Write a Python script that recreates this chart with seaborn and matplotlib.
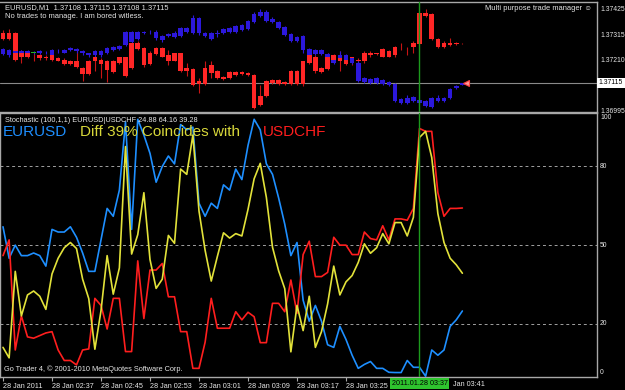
import matplotlib
matplotlib.use("Agg")
import numpy as np
import pandas as pd
import matplotlib.pyplot as plt
import seaborn as sns

# ---------------- data ----------------
time_labels = ["28 Jan 2011", "28 Jan 02:37", "28 Jan 02:45", "28 Jan 02:53", "28 Jan 03:01",
               "28 Jan 03:09", "28 Jan 03:17", "28 Jan 03:25", "", ""]
tick_bars = [0, 8, 16, 24, 32, 40, 48, 56, 64, 72]
partial_label = "Jan 03:41"
cursor_bar = 68
cursor_label = "2011.01.28 03:37"

# EURUSD M1 candles
eu_open = [1.37236,1.37253,1.37240,1.37249,1.37240,1.37242,1.37240,1.37244,1.37232,1.37249,
           1.37244,1.37253,1.37257,1.37249,1.37240,1.37232,1.37249,1.37240,1.37253,1.37257,
           1.37275,1.37330,1.37300,1.37326,1.37330,1.37330,1.37313,1.37313,1.37309,1.37313,
           1.37330,1.37326,1.37391,1.37326,1.37326,1.37322,1.37326,1.37330,1.37330,1.37339,
           1.37343,1.37373,1.37399,1.37416,1.37386,1.37373,1.37352,1.37322,1.37292,1.37313,
           1.37257,1.37236,1.37253,1.37236,1.37214,1.37219,1.37232,1.37219,1.37201,1.37120,
           1.37133,1.37115,1.37128,1.37120,1.37111,1.37047,1.37029,1.37038,1.37042,1.37038,
           1.37012,1.37038,1.37051,1.37051,1.37094,1.37108]
eu_close = [1.37257,1.37232,1.37249,1.37240,1.37249,1.37242,1.37249,1.37240,1.37253,1.37249,
            1.37253,1.37262,1.37249,1.37244,1.37232,1.37249,1.37232,1.37262,1.37266,1.37270,
            1.37330,1.37287,1.37330,1.37330,1.37330,1.37305,1.37296,1.37322,1.37326,1.37348,
            1.37348,1.37391,1.37326,1.37313,1.37300,1.37326,1.37343,1.37348,1.37356,1.37361,
            1.37378,1.37408,1.37416,1.37378,1.37373,1.37348,1.37318,1.37292,1.37309,1.37253,
            1.37232,1.37253,1.37236,1.37223,1.37201,1.37232,1.37214,1.37201,1.37124,1.37137,
            1.37115,1.37137,1.37111,1.37107,1.37038,1.37029,1.37051,1.37055,1.37029,1.37017,
            1.37051,1.37051,1.37038,1.37090,1.37103,1.37115]
eu_high = [1.37262,1.37257,1.37253,1.37253,1.37253,1.37249,1.37253,1.37249,1.37257,1.37257,
           1.37257,1.37266,1.37262,1.37253,1.37244,1.37253,1.37253,1.37266,1.37270,1.37275,
           1.37335,1.37335,1.37335,1.37335,1.37339,1.37339,1.37318,1.37326,1.37335,1.37352,
           1.37352,1.37404,1.37395,1.37330,1.37330,1.37339,1.37348,1.37352,1.37361,1.37365,
           1.37382,1.37416,1.37429,1.37425,1.37395,1.37378,1.37356,1.37326,1.37313,1.37318,
           1.37262,1.37257,1.37257,1.37240,1.37219,1.37249,1.37236,1.37223,1.37206,1.37141,
           1.37137,1.37141,1.37133,1.37124,1.37115,1.37051,1.37064,1.37060,1.37047,1.37042,
           1.37055,1.37064,1.37055,1.37094,1.37107,1.37115]
eu_low = [1.37232,1.37227,1.37236,1.37236,1.37236,1.37236,1.37236,1.37236,1.37227,1.37240,
          1.37240,1.37249,1.37244,1.37232,1.37227,1.37227,1.37227,1.37236,1.37249,1.37253,
          1.37270,1.37283,1.37296,1.37322,1.37322,1.37296,1.37287,1.37309,1.37305,1.37309,
          1.37326,1.37322,1.37318,1.37309,1.37296,1.37309,1.37322,1.37326,1.37326,1.37335,
          1.37339,1.37369,1.37395,1.37373,1.37369,1.37343,1.37313,1.37287,1.37287,1.37240,
          1.37227,1.37232,1.37232,1.37219,1.37197,1.37214,1.37210,1.37197,1.37120,1.37115,
          1.37111,1.37111,1.37107,1.37103,1.37034,1.37025,1.37025,1.37034,1.37025,1.37012,
          1.37008,1.37034,1.37034,1.37047,1.37090,1.37108]

# USDCHF candles overlaid on the EURUSD price scale
chf_open = [1.37300,1.37326,1.37326,1.37223,1.37244,1.37227,1.37232,1.37219,1.37232,1.37219,
            1.37214,1.37197,1.37206,1.37180,1.37154,1.37206,1.37214,1.37210,1.37163,1.37201,
            1.37223,1.37180,1.37257,1.37262,1.37197,1.37236,1.37262,1.37232,1.37210,1.37240,
            1.37167,1.37176,1.37111,1.37111,1.37189,1.37167,1.37141,1.37137,1.37163,1.37154,
            1.37158,1.37150,1.37021,1.37060,1.37115,1.37128,1.37111,1.37111,1.37167,1.37111,
            1.37201,1.37227,1.37163,1.37176,1.37214,1.37223,1.37214,1.37201,1.37214,1.37206,
            1.37232,1.37240,1.37227,1.37249,1.37232,1.37266,1.37249,1.37266,1.37279,1.37412,
            1.37408,1.37300,1.37266,1.37283,1.37279,1.37279]
chf_close = [1.37326,1.37300,1.37214,1.37244,1.37223,1.37223,1.37219,1.37227,1.37214,1.37210,
             1.37197,1.37210,1.37184,1.37154,1.37210,1.37223,1.37197,1.37171,1.37210,1.37223,
             1.37146,1.37283,1.37283,1.37189,1.37244,1.37262,1.37227,1.37210,1.37240,1.37167,
             1.37180,1.37107,1.37124,1.37180,1.37158,1.37137,1.37133,1.37163,1.37150,1.37163,
             1.37150,1.37008,1.37060,1.37124,1.37128,1.37111,1.37120,1.37167,1.37111,1.37206,
             1.37232,1.37167,1.37180,1.37236,1.37232,1.37206,1.37197,1.37223,1.37206,1.37244,
             1.37244,1.37236,1.37257,1.37227,1.37266,1.37266,1.37249,1.37283,1.37412,1.37399,
             1.37300,1.37266,1.37283,1.37275,1.37283,1.37279]
chf_high = [1.37339,1.37343,1.37330,1.37253,1.37249,1.37240,1.37236,1.37232,1.37236,1.37223,
            1.37219,1.37214,1.37257,1.37184,1.37214,1.37227,1.37219,1.37214,1.37214,1.37227,
            1.37227,1.37287,1.37292,1.37266,1.37249,1.37266,1.37266,1.37253,1.37244,1.37244,
            1.37201,1.37180,1.37137,1.37210,1.37210,1.37171,1.37146,1.37167,1.37167,1.37167,
            1.37163,1.37154,1.37107,1.37128,1.37133,1.37133,1.37124,1.37171,1.37171,1.37210,
            1.37236,1.37232,1.37184,1.37240,1.37236,1.37249,1.37219,1.37227,1.37219,1.37249,
            1.37249,1.37244,1.37262,1.37253,1.37270,1.37283,1.37266,1.37292,1.37416,1.37429,
            1.37412,1.37305,1.37292,1.37305,1.37287,1.37283]
chf_low = [1.37296,1.37296,1.37210,1.37201,1.37219,1.37210,1.37214,1.37214,1.37210,1.37206,
           1.37193,1.37193,1.37180,1.37124,1.37150,1.37167,1.37137,1.37120,1.37158,1.37197,
           1.37141,1.37176,1.37253,1.37184,1.37193,1.37232,1.37223,1.37189,1.37206,1.37163,
           1.37146,1.37103,1.37072,1.37107,1.37137,1.37133,1.37128,1.37133,1.37146,1.37150,
           1.37146,1.37004,1.37017,1.37055,1.37111,1.37107,1.37107,1.37107,1.37107,1.37103,
           1.37197,1.37158,1.37158,1.37171,1.37210,1.37167,1.37193,1.37189,1.37201,1.37201,
           1.37227,1.37232,1.37223,1.37223,1.37227,1.37253,1.37232,1.37240,1.37275,1.37395,
           1.37296,1.37262,1.37262,1.37270,1.37275,1.37279]

# Stochastic (100,1,1) values
stoch_eurusd = [57,45,50,46,46,47,46,42,56,55,
                55,57,53,47,40,40,52,64,61,71,
                97,56,98,92,85,74,80,84,81,96,
                94,95,66,61,66,64,73,71,79,75,
                88,98,94,81,77,68,58,46,51,29,
                21,27,21,12,11,19,14,8,3,4.5,
                5.6,3,3,1.5,1.4,1.4,6,3.4,3.4,0,
                10,8,10,19,21.5,24.88]
stoch_usdchf = [46,52,10,23,15,14.5,15.5,16.5,17,10,
                6,6,4.3,10,10.4,29.7,27,18,29.7,29.7,
                9.4,9.4,44,22,40.5,40.5,43,30.3,30.3,17,
                17,3,3,13,29.7,18.3,18.3,18.3,24.6,21.5,
                24.4,22.7,12.8,12.8,27.8,27.8,24.6,36.7,24,46.4,
                51.5,38,38,39.6,53,50,50,46.4,46.4,55,
                52.5,52,57.4,52,60,60,59.5,64,94.5,93.4,
                93.4,70,61,64,64,64.16]
stoch_diff = [11,7,40,23,31,32.5,30.5,25.5,39,45,
              49,51,48.7,37,29.6,10.3,25,46,31.3,41.3,
              87.6,46.6,54,70,44.5,33.5,37,53.7,50.7,79,
              77,92,63,48,36.3,45.7,54.7,52.7,54.4,53.5,
              63.6,75.3,81.2,68.2,49.2,40.2,33.4,9.3,27,17.4,
              30.5,11,17,27.6,42,31,36,38.4,43.4,50.5,
              46.9,49,54.4,50.5,58.6,58.6,53.5,60.6,91.1,93.4,
              83.4,62,51,45,42.5,39.28]

price_ticks = [1.37425, 1.37315, 1.37210, 1.36995]
stoch_levels = [20, 50, 80]
stoch_ticks = [0, 20, 50, 80, 100]

# ---------------- style ----------------
sns.set_theme(style="dark", rc={"axes.facecolor": "black", "figure.facecolor": "black"})
plt.rcParams["font.family"] = ["Liberation Sans", "DejaVu Sans"]

W, H = 625, 390
fig = plt.figure(figsize=(W / 100, H / 100), dpi=100, facecolor="black")


def fx(px):
    return px / W


def fy(py):
    return 1 - py / H


ax_top = fig.add_axes([fx(0), fy(112), fx(597), fy(2) - fy(112)])
ax_bot = fig.add_axes([fx(0), fy(377), fx(597), fy(113) - fy(377)])

n = len(eu_open)
bars = np.arange(n)
XMIN, XMAX = -0.49, 96.98
TXT = "#e6e6e6"
AXC = "#a8a8a8"

BLUE_C = "#2c18dc"
RED_C = "#ff2626"
GREEN_C = "#22b422"


def candles(ax, o, h, l, c, body_col, wick_col, doji_col):
    o = np.asarray(o); h = np.asarray(h); l = np.asarray(l); c = np.asarray(c)
    ax.vlines(bars, l, h, color=wick_col, lw=0.8, zorder=2)
    bottom = np.minimum(o, c)
    height = np.maximum(np.abs(c - o), 0.00003)
    cols = [doji_col if abs(oo - cc) < 1e-9 else body_col for oo, cc in zip(o, c)]
    ax.bar(bars, height, bottom=bottom, width=0.74, color=cols, edgecolor="none",
           linewidth=0, zorder=3)


# ---------------- upper price panel ----------------
ax_top.set_facecolor("black")
ax_top.axhline(eu_close[-1], color="#8a8a8a", lw=0.8, zorder=1)
candles(ax_top, chf_open, chf_high, chf_low, chf_close, RED_C, "#c81414", RED_C)
candles(ax_top, eu_open, eu_high, eu_low, eu_close, BLUE_C, BLUE_C, GREEN_C)
ax_top.plot([n - 1 + 0.6], [eu_close[-1]], marker="<", ms=4.5, color="#ff9a9a",
            mec="#ff4040", mew=0.8, zorder=5)
ax_top.axvline(cursor_bar, color="#1d9a1d", lw=1, zorder=4)
ax_top.set_xlim(XMIN, XMAX)
ax_top.set_ylim(1.36991, 1.37459)
ax_top.set_xticks([])
ax_top.set_yticks([])
for s in ["top", "bottom", "right"]:
    ax_top.spines[s].set_color(AXC)
    ax_top.spines[s].set_linewidth(1.0)
ax_top.spines["left"].set_visible(False)

ytr = ax_top.get_yaxis_transform()
for p in price_ticks:
    ax_top.text(1.005, p, f"{p:.5f}", transform=ytr, ha="left", va="center",
                fontsize=4.9, color=TXT, clip_on=False)
ax_top.text(1.003, eu_close[-1], f"{eu_close[-1]:.5f}", transform=ytr, ha="left",
            va="center", fontsize=4.9, color="black", clip_on=False,
            bbox=dict(fc="white", ec="none", pad=1.2))

# ---------------- lower stochastic panel ----------------
ax_bot.set_facecolor("black")
for lv in stoch_levels:
    ax_bot.axhline(lv, color="#a0a0a0", lw=0.7, ls=(0, (3, 3)), zorder=1)

df = pd.DataFrame({"bar": bars, "EURUSD": stoch_eurusd, "USDCHF": stoch_usdchf,
                   "Diff": stoch_diff})
long = df.melt(id_vars="bar", var_name="series", value_name="value")
sns.lineplot(data=long, x="bar", y="value", hue="series",
             hue_order=["EURUSD", "USDCHF", "Diff"],
             palette={"EURUSD": "#1e8fff", "USDCHF": "#ff1e1e", "Diff": "#e2e23a"},
             linewidth=1.2, legend=False, estimator=None, ax=ax_bot, zorder=3)
ax_bot.axvline(cursor_bar, color="#1d9a1d", lw=1, zorder=4)
ax_bot.set_xlim(XMIN, XMAX)
ax_bot.set_ylim(-0.3, 100.4)
ax_bot.set_xlabel("")
ax_bot.set_ylabel("")
ax_bot.set_yticks([])
ax_bot.set_xticks(tick_bars)
ax_bot.set_xticklabels(time_labels, ha="left", fontsize=5.2, color=TXT)
ax_bot.tick_params(axis="x", bottom=True, direction="out", length=3, width=0.8,
                   color=AXC, pad=1.2)
for s in ax_bot.spines.values():
    s.set_color(AXC)
    s.set_linewidth(1.0)

ytb = ax_bot.get_yaxis_transform()
for v in stoch_ticks:
    va = "top" if v == 100 else ("bottom" if v == 0 else "center")
    ax_bot.text(1.005, v, str(v), transform=ytb, ha="left", va=va, fontsize=4.9,
                color=TXT, clip_on=False)

# ---------------- texts ----------------
fig.text(fx(5), fy(8), "EURUSD,M1  1.37108 1.37115 1.37108 1.37115", ha="left",
         va="center", fontsize=5.4, color=TXT)
fig.text(fx(5), fy(16.5), "No trades to manage. I am bored witless.", ha="left",
         va="center", fontsize=5.4, color=TXT)
fig.text(fx(592), fy(9), "Multi purpose trade manager \u263a", ha="right", va="center",
         fontsize=5.4, color=TXT)
fig.text(fx(5), fy(120), "Stochastic (100,1,1) EURUSD|USDCHF 24.88 64.16 39.28",
         ha="left", va="center", fontsize=5.3, color=TXT)
fig.text(fx(3), fy(131.5), "EURUSD", ha="left", va="center", fontsize=11,
         color="#1e8fff")
fig.text(fx(80), fy(131.5), "Diff 39% Coincides with", ha="left", va="center",
         fontsize=11, color="#d8d83a")
fig.text(fx(263), fy(131.5), "USDCHF", ha="left", va="center", fontsize=11,
         color="#ff1e1e")
fig.text(fx(4), fy(369), "Go Trader 4, \u00a9 2001-2010 MetaQuotes Software Corp.",
         ha="left", va="center", fontsize=5.3, color=TXT)
fig.text(fx(419.5), fy(383.5), cursor_label, ha="center", va="center", fontsize=5.2,
         color="black", bbox=dict(fc="#2ec42e", ec="none", pad=1.3))
fig.text(fx(453), fy(384.5), partial_label, ha="left", va="center", fontsize=5.2,
         color=TXT)

fig.savefig("out.png", dpi=100, facecolor="black")
